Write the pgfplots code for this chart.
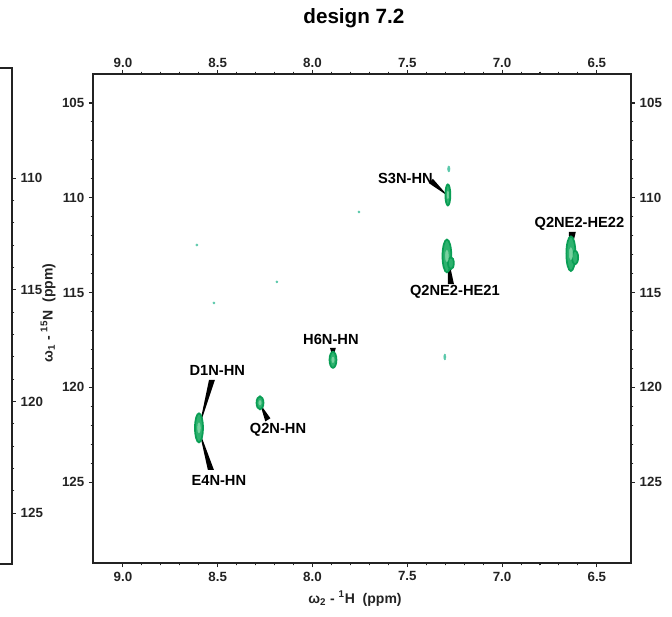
\documentclass[border=0pt]{standalone}
\usepackage{fontspec}
\setmainfont{Liberation Sans}
\usepackage{pgfplots}
\pgfplotsset{compat=1.18}

\definecolor{frame}{RGB}{35,35,35}
\definecolor{pkout}{RGB}{10,158,85}
\definecolor{pkfill}{RGB}{45,178,110}
\definecolor{pkin}{RGB}{120,210,160}
\definecolor{noise}{RGB}{90,200,170}

\tikzset{lab/.style={font=\fontsize{11}{13}\selectfont\bfseries, text=black, inner sep=0pt}}

\pgfplotsset{
  frm/.style={
    scale only axis,
    axis line style={frame, line width=1.6pt},
    tick style={frame, line width=0.8pt},
    tick align=outside,
    major tick length=3pt,
    minor tick length=1.8pt,
    tick label style={font=\fontsize{10}{12}\selectfont\bfseries, text=frame},
    /pgf/number format/assume math mode=true,
  },
  nmr/.style={
    frm,
    width=403.5pt, height=366.75pt,
    x dir=reverse, y dir=reverse,
    xmin=6.32, xmax=9.158, ymin=103.47, ymax=129.27,
    xtick={6.5,7.0,7.5,8.0,8.5,9.0},
    ytick={105,110,115,120,125},
    minor x tick num=4, minor y tick num=4,
    tick pos=both,
    xticklabel style={/pgf/number format/fixed, /pgf/number format/fixed zerofill, /pgf/number format/precision=1},
  },
  pk/.style 2 args={only marks, color=pkout, mark=*, mark size=1pt,
    mark options={xscale=#1, yscale=#2, draw=pkout, fill=pkfill, line width=1.3pt}},
  pkc/.style 2 args={only marks, color=pkin, mark=*, mark size=0.35pt,
    mark options={xscale=#1, yscale=#2, draw=none, fill=pkin}},
  nz/.style 2 args={only marks, color=noise, mark=*, mark size=1pt,
    mark options={xscale=#1, yscale=#2, draw=none, fill=noise}},
}

\begin{document}
\begin{tikzpicture}
\path[use as bounding box] (0,0) rectangle (504pt,462.75pt);
\clip (0,0) rectangle (504pt,462.75pt);

% partial left panel
\begin{axis}[frm,
  at={(9pt,39.75pt)}, anchor=south east,
  width=300pt, height=372pt,
  xmin=0, xmax=1, xtick=\empty,
  y dir=reverse, ymin=105.07, ymax=127.28,
  ytick={110,115,120,125}, minor y tick num=4,
  ytick pos=right, yticklabel pos=right]
\end{axis}

% main panel
\begin{axis}[nmr,
  at={(69.75pt,40.5pt)}, anchor=south west,
  xticklabel pos=lower, yticklabel pos=left,
  clip=false]
% noise points
\addplot[nz={0.8}{0.8}] coordinates {(8.610,112.49)};
\addplot[nz={0.8}{0.8}] coordinates {(8.188,114.44)};
\addplot[nz={0.8}{0.8}] coordinates {(8.520,115.55)};
\addplot[nz={0.8}{0.8}] coordinates {(7.755,110.75)};
\addplot[nz={0.8}{2.2}] coordinates {(7.302,118.40)};
\addplot[nz={0.9}{2.2}] coordinates {(7.281,108.48)};
% peaks
\addplot[pk={1.85}{7.9}] coordinates {(7.286,109.85)};
\addplot[pkc={1.85}{7.9}] coordinates {(7.286,109.85)};
\addplot[pk={3.3}{12.3}] coordinates {(7.291,113.07)};
\addplot[pk={2.2}{4.5}] coordinates {(7.270,113.45)};
\addplot[pkc={3.3}{12.3}] coordinates {(7.291,113.07)};
\addplot[pk={3.4}{13.0}] coordinates {(6.637,112.95)};
\addplot[pk={2.3}{5.0}] coordinates {(6.615,113.15)};
\addplot[pkc={3.4}{13.0}] coordinates {(6.637,112.95)};
\addplot[pk={2.6}{6.0}] coordinates {(7.892,118.55)};
\addplot[pkc={2.6}{6.0}] coordinates {(7.892,118.55)};
\addplot[pk={2.6}{4.9}] coordinates {(8.277,120.82)};
\addplot[pkc={2.6}{4.9}] coordinates {(8.277,120.82)};
\addplot[pk={3.0}{10.9}] coordinates {(8.599,122.14)};
\addplot[pkc={3.0}{10.9}] coordinates {(8.599,122.14)};
% label wedges
\addplot[fill=black, draw=none] coordinates {(7.386,109.23) (7.365,109.00) (7.286,109.905)};
\addplot[fill=black, draw=none] coordinates {(7.286,114.55) (7.254,114.55) (7.286,113.07)};
\addplot[fill=black, draw=none] coordinates {(6.648,111.80) (6.611,111.80) (6.642,113.07)};
\addplot[fill=black, draw=none] coordinates {(7.908,117.92) (7.877,117.92) (7.892,118.45)};
\addplot[fill=black, draw=none] coordinates {(8.546,119.61) (8.515,119.61) (8.599,122.14)};
\addplot[fill=black, draw=none] coordinates {(8.552,124.36) (8.520,124.36) (8.599,122.25)};
\addplot[fill=black, draw=none] coordinates {(8.249,121.80) (8.222,121.635) (8.277,120.87)};
% labels
\node[lab] at (axis cs:7.510,108.96) {S3N-HN};
\node[lab] at (axis cs:7.249,114.97) {Q2NE2-HE21};
\node[lab] at (axis cs:6.592,111.38) {Q2NE2-HE22};
\node[lab] at (axis cs:7.903,117.45) {H6N-HN};
\node[lab] at (axis cs:8.502,119.13) {D1N-HN};
\node[lab] at (axis cs:8.182,122.25) {Q2N-HN};
\node[lab] at (axis cs:8.494,124.94) {E4N-HN};
% title and axis labels
\node[font=\fontsize{15.5}{18}\selectfont\bfseries, anchor=base, text=black]
  at (axis description cs:0.485,1.104) {design 7.2};
\node[font=\fontsize{10.5}{12}\selectfont\bfseries, anchor=base, text=frame]
  at (axis description cs:0.487,-0.0818) {ω\textsubscript{2} - \textsuperscript{1}H\ \ (ppm)};
\node[font=\fontsize{10.5}{12}\selectfont\bfseries, anchor=center, rotate=90, text=frame]
  at (axis description cs:-0.0836,0.511) {ω\textsubscript{1} - \textsuperscript{15}N\ \ (ppm)};
\end{axis}

% top / right tick labels
\begin{axis}[nmr,
  at={(69.75pt,40.5pt)}, anchor=south west,
  xticklabel pos=upper, yticklabel pos=right,
  xticklabel style={/tikz/yshift=-1.5pt}]
\end{axis}
\end{tikzpicture}
\end{document}
